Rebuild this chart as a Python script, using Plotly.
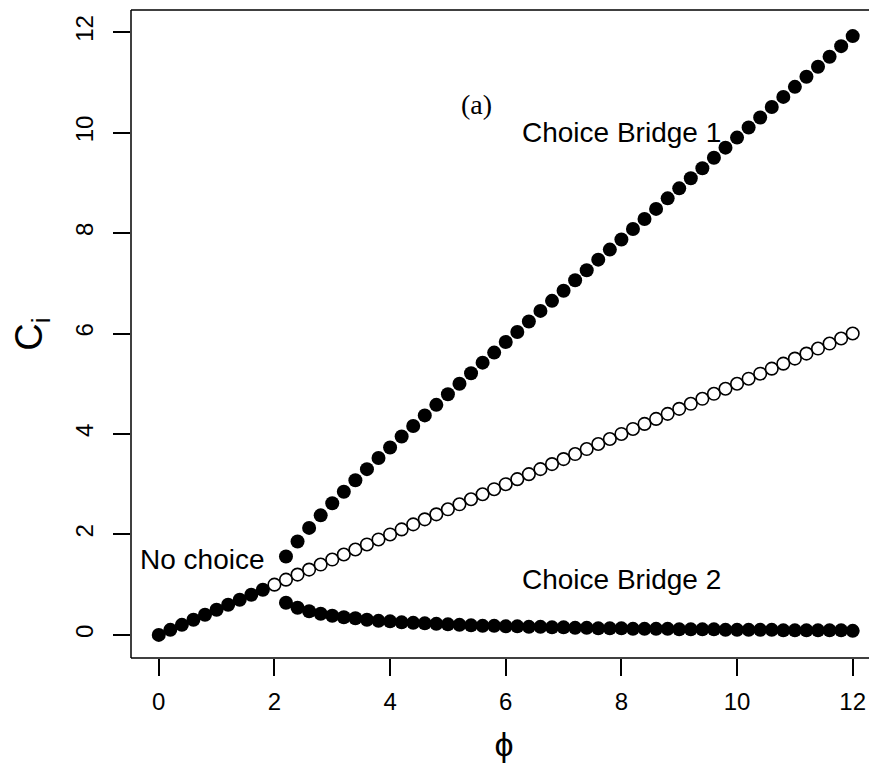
import plotly.graph_objects as go

# phi values
phi_nochoice_filled = [0.0, 0.2, 0.4, 0.6, 0.8, 1.0, 1.2, 1.4, 1.6, 1.8]
c_nochoice_filled = [0.0, 0.1, 0.2, 0.3, 0.4, 0.5, 0.6, 0.7, 0.8, 0.9]

phi_nochoice_open = [2.0, 2.2, 2.4, 2.6, 2.8, 3.0, 3.2, 3.4, 3.6, 3.8,
                     4.0, 4.2, 4.4, 4.6, 4.8, 5.0, 5.2, 5.4, 5.6, 5.8,
                     6.0, 6.2, 6.4, 6.6, 6.8, 7.0, 7.2, 7.4, 7.6, 7.8,
                     8.0, 8.2, 8.4, 8.6, 8.8, 9.0, 9.2, 9.4, 9.6, 9.8,
                     10.0, 10.2, 10.4, 10.6, 10.8, 11.0, 11.2, 11.4, 11.6, 11.8, 12.0]
c_nochoice_open = [1.0, 1.1, 1.2, 1.3, 1.4, 1.5, 1.6, 1.7, 1.8, 1.9,
                   2.0, 2.1, 2.2, 2.3, 2.4, 2.5, 2.6, 2.7, 2.8, 2.9,
                   3.0, 3.1, 3.2, 3.3, 3.4, 3.5, 3.6, 3.7, 3.8, 3.9,
                   4.0, 4.1, 4.2, 4.3, 4.4, 4.5, 4.6, 4.7, 4.8, 4.9,
                   5.0, 5.1, 5.2, 5.3, 5.4, 5.5, 5.6, 5.7, 5.8, 5.9, 6.0]

phi_choice = [2.2, 2.4, 2.6, 2.8, 3.0, 3.2, 3.4, 3.6, 3.8,
              4.0, 4.2, 4.4, 4.6, 4.8, 5.0, 5.2, 5.4, 5.6, 5.8,
              6.0, 6.2, 6.4, 6.6, 6.8, 7.0, 7.2, 7.4, 7.6, 7.8,
              8.0, 8.2, 8.4, 8.6, 8.8, 9.0, 9.2, 9.4, 9.6, 9.8,
              10.0, 10.2, 10.4, 10.6, 10.8, 11.0, 11.2, 11.4, 11.6, 11.8, 12.0]
c_bridge1 = [1.56, 1.86, 2.13, 2.38, 2.62, 2.85, 3.08, 3.30, 3.52,
             3.73, 3.95, 4.16, 4.37, 4.58, 4.79, 5.00, 5.21, 5.42, 5.62,
             5.83, 6.03, 6.24, 6.45, 6.65, 6.85, 7.06, 7.26, 7.47, 7.67,
             7.87, 8.08, 8.28, 8.48, 8.69, 8.89, 9.09, 9.29, 9.50, 9.70,
             9.90, 10.10, 10.30, 10.51, 10.71, 10.91, 11.11, 11.31, 11.51, 11.72, 11.92]
c_bridge2 = [0.64, 0.54, 0.47, 0.42, 0.38, 0.35, 0.33, 0.30, 0.28,
             0.27, 0.25, 0.24, 0.23, 0.22, 0.21, 0.20, 0.19, 0.18, 0.18,
             0.17, 0.17, 0.16, 0.16, 0.15, 0.15, 0.14, 0.14, 0.13, 0.13,
             0.13, 0.12, 0.12, 0.12, 0.12, 0.11, 0.11, 0.11, 0.11, 0.10,
             0.10, 0.10, 0.10, 0.10, 0.09, 0.09, 0.09, 0.09, 0.09, 0.09, 0.08]

tick_vals = [0, 2, 4, 6, 8, 10, 12]
tick_text = ["0", "2", "4", "6", "8", "10", "12"]

labels = ["(a)", "Choice Bridge 1", "No choice", "Choice Bridge 2"]
label_x = [5.5, 8.0, 0.75, 8.0]
label_y = [10.55, 10.0, 1.5, 1.1]

SANS = "Liberation Sans, Arial, Helvetica, sans-serif"
SERIF = "Liberation Serif, Times New Roman, serif"

filled = dict(symbol="circle", size=14, color="black", line=dict(width=0))
openm = dict(symbol="circle", size=12.5, color="white", line=dict(width=1.6, color="black"))

fig = go.Figure()
fig.add_trace(go.Scatter(x=phi_nochoice_filled, y=c_nochoice_filled, mode="markers", marker=filled))
fig.add_trace(go.Scatter(x=phi_nochoice_open, y=c_nochoice_open, mode="markers", marker=openm))
fig.add_trace(go.Scatter(x=phi_choice, y=c_bridge1, mode="markers", marker=filled))
fig.add_trace(go.Scatter(x=phi_choice, y=c_bridge2, mode="markers", marker=filled))

for i, t in enumerate(labels):
    fig.add_annotation(x=label_x[i], y=label_y[i], text=t, showarrow=False,
                       xanchor="center", yanchor="middle",
                       font=dict(family=SERIF if t == "(a)" else SANS,
                                 size=28, color="black"))

# open box: left, bottom and top sides (the right side lies outside the picture)
box_style = dict(color="black", width=1.5)
fig.add_shape(type="line", xref="paper", yref="paper", x0=0, x1=0, y0=0, y1=1, line=box_style)
fig.add_shape(type="line", xref="paper", yref="paper", x0=0, x1=1.02, y0=0, y1=0, line=box_style)
fig.add_shape(type="line", xref="paper", yref="paper", x0=0, x1=1.02, y0=1, y1=1, line=box_style)

# page body has an 8px margin; figure is sized so it fits in the window
fig.update_layout(
    width=869, height=761,
    margin=dict(l=123, r=0, t=2, b=111),
    paper_bgcolor="white", plot_bgcolor="white",
    showlegend=False,
    font=dict(family=SANS, color="black"),
)
fig.update_xaxes(
    range=[-0.48, 12.42], showgrid=False, zeroline=False, showline=False,
    ticks="outside", ticklen=17, tickwidth=1.5, tickcolor="black",
    tickvals=tick_vals, ticktext=tick_text, ticklabelstandoff=5,
    tickfont=dict(size=24, family=SANS),
    title=dict(text="ϕ", font=dict(size=34, family=SANS), standoff=18),
)
fig.update_yaxes(
    range=[-0.46, 12.44], showgrid=False, zeroline=False, showline=False,
    ticks="outside", ticklen=17, tickwidth=1.5, tickcolor="black",
    tickvals=tick_vals, ticktext=tick_text, tickangle=-90, ticklabelstandoff=10,
    tickfont=dict(size=24, family=SANS),
    title=dict(text="C<sub>i</sub>", font=dict(size=38, family=SANS), standoff=18),
)

fig.write_html("out.html")
